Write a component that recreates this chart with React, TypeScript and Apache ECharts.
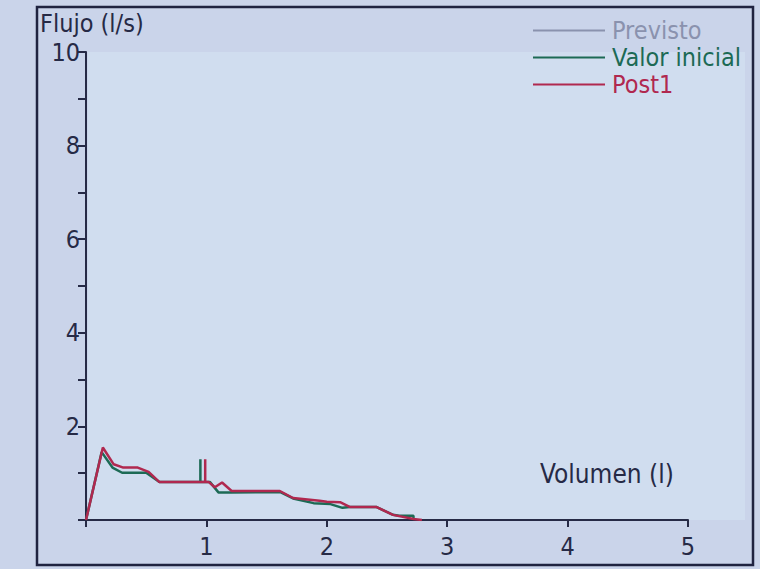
import React, { useEffect, useRef } from "react";
import * as echarts from "echarts";

const FONT = "'DejaVu Sans Condensed', 'Liberation Sans', sans-serif";
const INK = "#262a46";

const xTicks = [1, 2, 3, 4, 5];
const yTickLabels = ["2", "4", "6", "8", "10"];

const seriesNames = ["Previsto", "Valor inicial", "Post1"];
const seriesColors = ["#8a92ae", "#1c6a55", "#b0284f"];

const previsto: number[][] = [];

const valorInicial: number[][] = [
  [0, 0], [0.13, 1.45], [0.22, 1.12], [0.3, 1.01], [0.5, 1.01], [0.61, 0.81],
  [0.95, 0.81], [0.95, 1.3], [0.95, 0.81], [1.03, 0.81], [1.1, 0.59], [1.2, 0.59],
  [1.61, 0.6], [1.72, 0.46], [1.89, 0.36], [2.03, 0.34], [2.13, 0.26], [2.19, 0.28],
  [2.41, 0.28], [2.55, 0.11], [2.6, 0.09], [2.72, 0.09], [2.72, 0],
];

const post1: number[][] = [
  [0, 0], [0.14, 1.55], [0.23, 1.19], [0.31, 1.12], [0.43, 1.12], [0.52, 1.03],
  [0.61, 0.81], [0.99, 0.81], [0.99, 1.3], [0.99, 0.81], [1.02, 0.81], [1.07, 0.7],
  [1.13, 0.8], [1.21, 0.62], [1.61, 0.62], [1.72, 0.47], [1.94, 0.41], [2.0, 0.39],
  [2.11, 0.38], [2.19, 0.28], [2.41, 0.28], [2.55, 0.11], [2.72, 0.02], [2.79, 0],
];

export default function App() {
  const ref = useRef<HTMLDivElement>(null);
  useEffect(() => {
    if (!ref.current) return;
    const chart = echarts.init(ref.current, null, { renderer: "svg" });
    chart.setOption({
      animation: false,
      backgroundColor: "#cad4ea",
      textStyle: { fontFamily: FONT },
      graphic: [
        {
          type: "rect",
          z: -10,
          shape: { x: 88, y: 52, width: 657, height: 468 },
          style: { fill: "#d0ddef" },
          silent: true,
        },
        {
          type: "rect",
          z: 10,
          shape: { x: 37, y: 7, width: 716, height: 558 },
          style: { fill: "none", stroke: "#1f2340", lineWidth: 2.5 },
          silent: true,
        },
        {
          type: "text",
          left: 40,
          top: 11,
          style: { text: "Flujo (l/s)", fontSize: 25, fontFamily: FONT, fill: INK },
        },
        {
          type: "text",
          left: 540,
          top: 461,
          style: { text: "Volumen (l)", fontSize: 26, fontFamily: FONT, fill: INK },
        },
      ],
      legend: {
        orient: "vertical",
        left: 528,
        top: 13,
        itemWidth: 72,
        itemHeight: 2,
        itemGap: 2,
        selectedMode: false,
        textStyle: { fontSize: 25, lineHeight: 25, fontFamily: FONT, padding: [0, 0, 0, 2] },
        data: seriesNames.map((n, i) => ({
          name: n,
          icon: "rect",
          itemStyle: { color: seriesColors[i] },
          textStyle: { color: seriesColors[i] },
        })),
      },
      grid: { left: 86, right: 72, top: 52, bottom: 49, containLabel: false },
      xAxis: {
        type: "value",
        min: 0,
        max: 5,
        interval: 1,
        splitLine: { show: false },
        axisLine: { lineStyle: { color: INK, width: 2 } },
        axisTick: { length: 7, lineStyle: { color: INK, width: 2 } },
        axisLabel: {
          fontSize: 25,
          color: INK,
          margin: 14,
          fontFamily: FONT,
          formatter: (v: number) => (xTicks.includes(v) ? String(v) : ""),
        },
      },
      yAxis: {
        type: "value",
        min: 0,
        max: 10,
        interval: 1,
        splitLine: { show: false },
        axisLine: { show: true, lineStyle: { color: INK, width: 2 } },
        axisTick: { show: true, length: 8, lineStyle: { color: INK, width: 2 } },
        axisLabel: {
          fontSize: 25,
          color: INK,
          margin: 6,
          fontFamily: FONT,
          formatter: (v: number) => (yTickLabels.includes(String(v)) ? String(v) : ""),
        },
      },
      series: [
        {
          name: seriesNames[0],
          type: "line",
          data: previsto,
          showSymbol: false,
          lineStyle: { color: seriesColors[0], width: 1.5 },
          itemStyle: { color: seriesColors[0] },
        },
        {
          name: seriesNames[1],
          type: "line",
          data: valorInicial,
          showSymbol: false,
          lineStyle: { color: seriesColors[1], width: 2.5 },
          itemStyle: { color: seriesColors[1] },
        },
        {
          name: seriesNames[2],
          type: "line",
          data: post1,
          showSymbol: false,
          lineStyle: { color: seriesColors[2], width: 2.5 },
          itemStyle: { color: seriesColors[2] },
        },
      ],
    });
    return () => chart.dispose();
  }, []);
  return (
    <div
      ref={ref}
      style={{ position: "fixed", left: 0, top: 0, width: 760, height: 569 }}
    />
  );
}
